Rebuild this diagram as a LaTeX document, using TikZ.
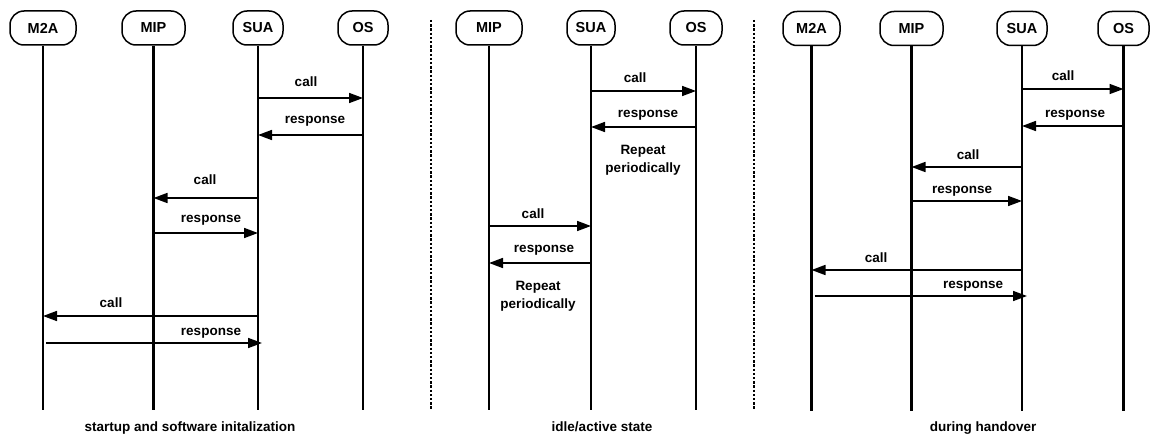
\documentclass[tikz,border=0pt]{standalone}
\usepackage{fontspec}
\setmainfont{Liberation Sans}
\usetikzlibrary{arrows.meta}
\begin{document}
\begin{tikzpicture}[x=1pt,y=-1pt,
  every node/.style={font=\fontsize{13.5}{18}\selectfont\bfseries},
  actor/.style={draw,line width=1.5pt,rounded corners=14pt,minimum height=34pt,inner sep=2pt,
                font=\fontsize{14.5}{16}\selectfont\bfseries},
  lifeline/.style={line width=2.3pt},
  msg/.style={line width=1.7pt,-{Triangle[length=14pt,width=10pt]}},
  lbl/.style={inner sep=0pt,anchor=base},
  note/.style={inner sep=0pt,anchor=center,align=center},
  caption/.style={inner sep=0pt,anchor=base,font=\fontsize{13.5}{15}\selectfont\bfseries},
  sep/.style={line width=2.8pt,dash pattern=on 2.4pt off 1.8pt}]
\useasboundingbox (0,0) rectangle (1150,436);

% ---------- startup and software initialization ----------
\node[actor,minimum width=66pt] (aM2A) at (43,28) {M2A};
\node[actor,minimum width=63pt] (aMIP) at (153.5,28) {MIP};
\node[actor,minimum width=50pt] (aSUA) at (258,28) {SUA};
\node[actor,minimum width=50pt] (aOS)  at (363,28) {OS};
\foreach \n/\x in {M2A/42,MIP/153,SUA/258,OS/362}{
  \coordinate (eA\n) at (\x,410);
  \draw[lifeline] (a\n) -- (a\n |- eA\n);
}
\coordinate (rA1) at (0,98);
\coordinate (rA2) at (0,135);
\coordinate (rA3) at (0,198);
\coordinate (rA4) at (0,233);
\coordinate (rA5) at (0,316);
\coordinate (rA6) at (0,343);
\draw[msg] (aSUA |- rA1) -- (aOS |- rA1);
\draw[msg] (aOS |- rA2) -- (aSUA |- rA2);
\draw[msg] (aSUA |- rA3) -- (aMIP |- rA3);
\draw[msg] (aMIP |- rA4) -- (aSUA |- rA4);
\draw[msg] (aSUA |- rA5) -- (aM2A |- rA5);
\draw[msg] ([xshift=3pt]aM2A |- rA6) -- ([xshift=4pt]aSUA |- rA6);
\node[lbl] (tA1) at (306,86) {call};
\node[lbl] (tA2) at (315,123) {response};
\node[lbl] (tA3) at (205,184) {call};
\node[lbl] (tA4) at (211,222) {response};
\node[lbl] (tA5) at (111,307) {call};
\node[lbl] (tA6) at (211,335) {response};
\node[caption] (cA) at (190,431) {startup and software initalization};

% ---------- separators ----------
\coordinate (s1t) at (431,20);
\coordinate (s1b) at (431,410);
\coordinate (s2t) at (754,20);
\coordinate (s2b) at (754,410);
\draw[sep] (s1t) -- (s1b);
\draw[sep] (s2t) -- (s2b);

% ---------- idle/active state ----------
\node[actor,minimum width=66pt] (bMIP) at (489,28) {MIP};
\node[actor,minimum width=48pt] (bSUA) at (591,28) {SUA};
\node[actor,minimum width=52pt] (bOS)  at (696,28) {OS};
\foreach \n/\x in {MIP/488,SUA/591,OS/695}{
  \coordinate (eB\n) at (\x,410);
  \draw[lifeline] (b\n) -- (b\n |- eB\n);
}
\coordinate (rB1) at (0,91);
\coordinate (rB2) at (0,127);
\coordinate (rB3) at (0,226);
\coordinate (rB4) at (0,263);
\draw[msg] (bSUA |- rB1) -- (bOS |- rB1);
\draw[msg] (bOS |- rB2) -- (bSUA |- rB2);
\draw[msg] (bMIP |- rB3) -- (bSUA |- rB3);
\draw[msg] (bSUA |- rB4) -- (bMIP |- rB4);
\node[lbl] (tB1) at (635,82) {call};
\node[lbl] (tB2) at (648,117) {response};
\node[lbl] (tB3) at (533,218) {call};
\node[lbl] (tB4) at (544,252) {response};
\node[note] (tB5) at (643,160) {Repeat\\periodically};
\node[note] (tB6) at (538,296) {Repeat\\periodically};
\node[caption] (cB) at (602,431) {idle/active state};

% ---------- during handover ----------
\node[actor,minimum width=57pt] (cM2A) at (811.5,28.5) {M2A};
\node[actor,minimum width=63pt] (cMIP) at (911.5,28.5) {MIP};
\node[actor,minimum width=50pt] (cSUA) at (1022,28.5) {SUA};
\node[actor,minimum width=51pt] (cOS)  at (1123.5,28.5) {OS};
\foreach \n/\x in {M2A/806,MIP/912,SUA/1020,OS/1123}{
  \coordinate (eC\n) at (\x,411);
  \draw[lifeline] (c\n) -- (c\n |- eC\n);
}
\coordinate (rC1) at (0,89);
\coordinate (rC2) at (0,126);
\coordinate (rC3) at (0,167);
\coordinate (rC4) at (0,201);
\coordinate (rC5) at (0,270);
\coordinate (rC6) at (0,296);
\draw[msg] (cSUA |- rC1) -- (cOS |- rC1);
\draw[msg] (cOS |- rC2) -- (cSUA |- rC2);
\draw[msg] (cSUA |- rC3) -- (cMIP |- rC3);
\draw[msg] (cMIP |- rC4) -- (cSUA |- rC4);
\draw[msg] (cSUA |- rC5) -- (cM2A |- rC5);
\draw[msg] ([xshift=3pt]cM2A |- rC6) -- ([xshift=5pt]cSUA |- rC6);
\node[lbl] (tC1) at (1063,81) {call};
\node[lbl] (tC2) at (1075,117) {response};
\node[lbl] (tC3) at (968,159) {call};
\node[lbl] (tC4) at (962,193) {response};
\node[lbl] (tC5) at (876,262) {call};
\node[lbl] (tC6) at (973,288) {response};
\node[caption] (cC) at (983,431) {during handover};
\end{tikzpicture}
\end{document}
